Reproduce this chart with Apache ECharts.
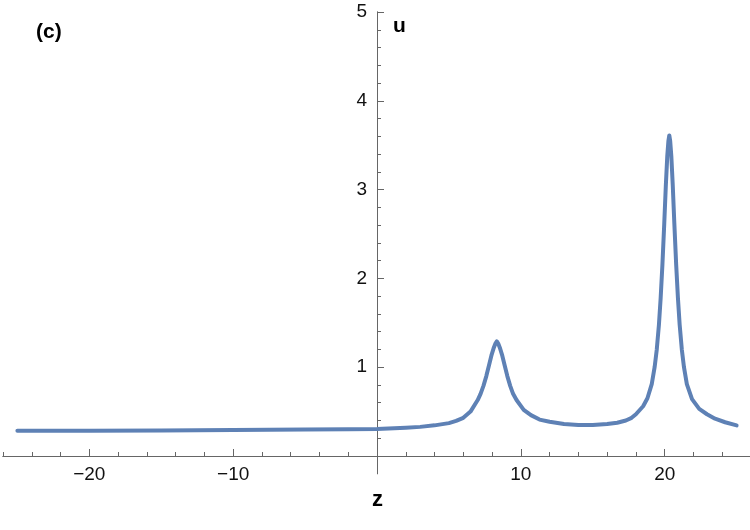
<!DOCTYPE html>
<html>
<head>
<meta charset="utf-8">
<script src="https://cdn.jsdelivr.net/npm/echarts@6/dist/echarts.min.js"></script>
<style>
  html, body { margin: 0; padding: 0; background: #fff; }
  #chart { width: 750px; height: 530px; }
</style>
</head>
<body>
<div id="chart"></div>
<script>
// values
var zs = [-25, -20, -15, -10, -5, -2, 0, 2, 3, 4, 5, 5.5, 6, 6.5, 7, 7.2, 7.4, 7.6, 7.8, 7.95,
  8.1, 8.22, 8.33, 8.44, 8.56, 8.71, 8.86, 9.06, 9.26, 9.46, 9.7, 10.2, 10.7, 11.3, 12, 13, 14,
  15, 16, 16.7, 17.3, 17.7, 18, 18.5, 18.8, 19.1, 19.3, 19.45, 19.6, 19.72, 19.84, 19.97, 20.08,
  20.18, 20.26, 20.32, 20.38, 20.46, 20.56, 20.67, 20.8, 20.92, 21.04, 21.19, 21.34, 21.54,
  21.9, 22.4, 22.94, 23.5, 24.2, 25];
var us = [0.283, 0.285, 0.288, 0.292, 0.298, 0.302, 0.305, 0.318, 0.328, 0.345, 0.37, 0.395,
  0.43, 0.50, 0.63, 0.70, 0.79, 0.90, 1.03, 1.13, 1.21, 1.262, 1.29, 1.262, 1.21, 1.13, 1.03,
  0.90, 0.79, 0.70, 0.63, 0.52, 0.46, 0.41, 0.385, 0.36, 0.35, 0.35, 0.36, 0.375, 0.40, 0.43,
  0.47, 0.56, 0.65, 0.81, 1.0, 1.2, 1.48, 1.78, 2.15, 2.62, 3.05, 3.38, 3.55, 3.61, 3.55, 3.38,
  3.05, 2.62, 2.15, 1.78, 1.48, 1.2, 1.0, 0.81, 0.64, 0.53, 0.47, 0.42, 0.38, 0.345];

var xMajor = [-20, -10, 0, 10, 20];
var xLabels = [-20, -10, 10, 20];
var xMinor = [-26, -24, -22, -18, -16, -14, -12, -8, -6, -4, -2, 2, 4, 6, 8, 12, 14, 16, 18, 22, 24];
var yMajor = [1, 2, 3, 4, 5];
var yLabels = [1, 2, 3, 4, 5];
var yMinor = [0.2, 0.4, 0.6, 0.8, 1.2, 1.4, 1.6, 1.8, 2.2, 2.4, 2.6, 2.8, 3.2, 3.4, 3.6, 3.8,
  4.2, 4.4, 4.6, 4.8];

var axisColor = "#666";
var font = "'Liberation Sans', Arial, sans-serif";

function minus(v) {
  return v < 0 ? "\u2212" + (-v) : String(v);
}

var data = zs.map(function (z, i) {
  return [z, us[i]];
});

// axes sit where the other one is zero (grid edge -> zero line)
var xOffset = -17.76;
var yOffset = -374;

function xAxisOf(ticks, len, labels) {
  return {
    type: "value",
    position: "bottom",
    offset: xOffset,
    min: -26,
    max: 26,
    axisLine: { show: true, onZero: false, lineStyle: { color: axisColor, width: 1 } },
    axisTick: { show: true, inside: true, length: len, customValues: ticks, lineStyle: { color: axisColor } },
    axisLabel: labels
      ? { show: true, customValues: labels, formatter: minus, margin: 9, color: "#111", fontSize: 19, fontFamily: font }
      : { show: false },
    splitLine: { show: false }
  };
}

function yAxisOf(ticks, len, labels) {
  return {
    type: "value",
    position: "left",
    offset: yOffset,
    min: -0.2,
    max: 5,
    axisLine: { show: true, onZero: false, lineStyle: { color: axisColor, width: 1 } },
    axisTick: { show: true, inside: true, length: len, customValues: ticks, lineStyle: { color: axisColor } },
    axisLabel: labels
      ? { show: true, customValues: labels, margin: 10, color: "#111", fontSize: 19, fontFamily: font }
      : { show: false },
    splitLine: { show: false }
  };
}

var option = {
  backgroundColor: "#FFFFFF",
  animation: false,
  grid: { left: 3, right: -1, top: 12, bottom: 56.24, containLabel: false, outerBoundsMode: "none" },
  xAxis: [xAxisOf(xMajor, 7, xLabels), xAxisOf(xMinor, 4, null)],
  yAxis: [yAxisOf(yMajor, 7, yLabels), yAxisOf(yMinor, 4, null)],
  graphic: [
    { type: "text", left: 36, top: 22, style: { text: "(c)", font: "bold 21px " + font, fill: "#000" } },
    { type: "text", left: 393, top: 16, style: { text: "u", font: "bold 21px " + font, fill: "#000" } },
    { type: "text", left: 372, top: 489, style: { text: "z", font: "bold 22px " + font, fill: "#000" } }
  ],
  series: [
    {
      type: "line",
      xAxisIndex: 0,
      yAxisIndex: 0,
      data: data,
      showSymbol: false,
      smooth: false,
      lineStyle: { color: "#5E81B5", width: 4, join: "round", cap: "round" },
      itemStyle: { color: "#5E81B5" }
    }
  ]
};

var chart = echarts.init(document.getElementById("chart"));
chart.setOption(option);
</script>
</body>
</html>
